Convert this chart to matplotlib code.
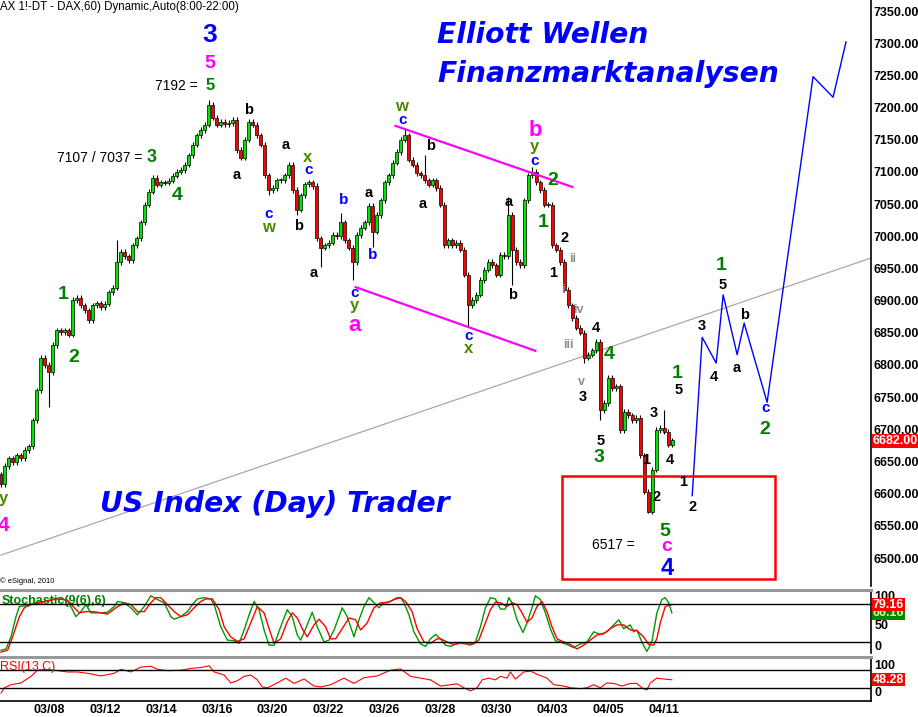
import matplotlib.pyplot as plt
from matplotlib.patches import Rectangle

# time axis in hourly bars: 14 bars per session (8:00-22:00), bar 0 = 03/05 8:00
bars_per_day = 14
day_index = [3, 5, 7, 9, 11, 13, 15, 17, 19, 21, 23, 25]
date_labels = ['03/08', '03/12', '03/14', '03/16', '03/20', '03/22',
               '03/26', '03/28', '03/30', '04/03', '04/05', '04/11']

# 2-hour candles from 03/06 12:00
first_bar = 18
bar_step = 2
first_open = 6630
closes = [6615, 6643, 6655, 6649, 6660, 6655, 6668, 6674, 6714, 6761,
          6811, 6800, 6789, 6831, 6854, 6851, 6854, 6847, 6901, 6904,
          6893, 6885, 6870, 6893, 6896, 6890, 6895, 6913, 6920, 6960,
          6976, 6969, 6963, 6986, 6997, 7022, 7049, 7069, 7091, 7080,
          7084, 7083, 7086, 7094, 7100, 7103, 7111, 7126, 7142, 7157,
          7165, 7173, 7204, 7184, 7173, 7178, 7174, 7176, 7181, 7134,
          7122, 7150, 7178, 7173, 7157, 7142, 7095, 7072, 7075, 7087,
          7087, 7095, 7111, 7072, 7041, 7064, 7081, 7084, 7078, 6997,
          6982, 6986, 6990, 7002, 7000, 7022, 6994, 6982, 6960, 7002,
          7013, 7022, 7047, 7007, 7033, 7056, 7084, 7095, 7114, 7131,
          7150, 7157, 7119, 7111, 7098, 7095, 7087, 7080, 7087, 7075,
          7049, 6986, 6994, 6986, 6990, 6979, 6940, 6893, 6901, 6909,
          6932, 6948, 6960, 6955, 6940, 6971, 6969, 7033, 6979, 6960,
          6955, 7056, 7095, 7100, 7084, 7072, 7049, 7049, 6986, 6979,
          6960, 6917, 6893, 6873, 6858, 6850, 6811, 6816, 6823, 6836,
          6730, 6741, 6780, 6764, 6767, 6699, 6727, 6722, 6714, 6718,
          6660, 6603, 6572, 6637, 6699, 6702, 6696, 6676, 6683]
wick_hi = {29: 6994, 52: 7212, 85: 7036, 101: 7168, 106: 7126,
           127: 7061, 133: 7108, 166: 6730}
wick_lo = {12: 6735, 67: 7064, 74: 7033, 80: 6952, 88: 6932, 93: 6983,
           117: 6859, 128: 6924, 146: 6803, 150: 6714, 162: 6570}
wick = 4
last_price = 6682.00
price_ticks = list(range(6500, 7351, 50))

# stochastic %K (green) and %D (red)
stoch_k_h = [18, 20.5, 23, 25.5, 27.2, 29.7, 31.3, 34.7, 39.7, 44.7,
             48, 51.3, 53, 55.5, 58, 60.5, 63, 68, 71.3, 74.7,
             76.3, 79.7, 83, 86.3, 89.7, 93, 96.3, 99.7, 103, 104.7,
             108, 111.3, 113.8, 116.3, 119.7, 123, 124.7, 128, 131.3, 134.7,
             137.2, 139.7, 142.2, 144.7, 147.2, 149.7, 152.2, 154.7, 158, 161.3,
             163.8, 166.3, 168, 170.5, 173.8, 176.3, 179.7, 182.2, 184.7, 187.2,
             188.8, 191.3, 194.7, 197.2, 199.7, 202.2, 204.7, 207.2, 209.7, 213,
             216.3, 218, 219.7, 222.2, 224.7, 228, 230.5, 233, 235.5,
             238, 240.5, 243, 246.3, 249.7, 253, 255.5, 258, 260.5, 263,
             265.5, 268, 270.5, 272.2, 273.8, 276.3, 279.3, 281.3, 283.8, 285.5,
             288, 290.5, 293, 295.5, 298, 301.3, 304.7, 308, 311.3, 314.7,
             318, 321.3, 324.7, 327.2, 329.7, 333, 334.7, 336.3, 338.8, 341.3,
             343.8, 346.3, 348.8, 350.5, 352.2, 353.8]
stoch_k = [7, 9, 28, 60, 76, 77, 76, 82, 84, 88,
           90, 84, 76, 60, 68, 79, 66, 66, 67, 76,
           84, 82, 74, 63, 76, 93, 87, 82, 60, 56,
           60, 68, 79, 88, 90, 88, 79, 44, 23, 22,
           18, 39, 63, 84, 71, 39, 15, 15, 44, 71,
           60, 31, 23, 41, 67, 44, 20, 23, 39, 60,
           74, 60, 28, 55, 76, 90, 82, 74, 82, 84,
           90, 90, 82, 63, 36, 17, 13, 25, 32,
           25, 15, 13, 18, 18, 15, 20, 44, 74, 90,
           88, 72, 72, 90, 82, 55, 35, 50, 74, 93,
           87, 66, 41, 22, 20, 16, 11, 17, 20, 36,
           32, 36, 47, 55, 41, 47, 36, 39, 20, 5,
           20, 66, 87, 90, 82, 66.16]
stoch_d_h = [18, 21.3, 23.8, 27.2, 29.7, 32.2, 34.7, 39.7, 46.3, 51.3,
             54.7, 57.2, 60.5, 63.8, 68, 71.3, 75.5, 79.7, 83, 86.3,
             89.7, 93, 95.5, 98, 101.3, 104.7, 108, 111.3, 114.7, 118,
             120.5, 123.8, 127.2, 129.7, 133, 136.3, 139.7, 143, 146.3, 149.7,
             152.2, 154.7, 158, 161.3, 163.8, 166.3, 168.8, 171.3, 174.7, 177.2,
             180.5, 183, 185.5, 188.8, 192.2, 195.5, 198, 201.3, 204.7, 208,
             211.3, 214.7, 218, 220.5, 223.8, 226.3, 229.7, 233, 236.3,
             238, 241.3, 244.7, 248, 251.3, 254.7, 257.2, 259.7, 263, 265.5,
             268, 271.3, 273.8, 276.3, 278.8, 281.3, 283.8, 286.3, 288.8, 291.3,
             293.8, 296.3, 299.7, 303, 306.3, 309.7, 313, 316.3, 319.7, 323,
             326.3, 329.7, 333, 336.3, 339.7, 342.2, 344.7, 346.3, 348, 350.5, 353.8]
stoch_d = [4, 7, 28, 60, 74, 79, 80, 84, 88, 86,
           74, 66, 68, 68, 66, 64, 74, 82, 79, 68,
           68, 82, 90, 90, 79, 68, 60, 63, 74, 84,
           88, 88, 71, 44, 28, 21, 25, 50, 76, 66,
           41, 18, 25, 52, 66, 58, 41, 28, 47, 56,
           44, 25, 25, 41, 58, 55, 39, 50, 74, 82,
           82, 87, 90, 84, 68, 41, 20, 18, 25,
           25, 20, 16, 18, 17, 17, 23, 44, 71, 83,
           82, 76, 82, 79, 66, 51, 58, 76, 84, 68,
           44, 25, 20, 16, 9, 15, 23, 31, 33, 41,
           47, 47, 39, 38, 28, 16, 15, 25, 50, 76, 79.16]

# RSI(13)
rsi_h = [18, 19.7, 23, 28, 33, 36.3, 39.7, 44.7, 51.3, 56.3,
         61.3, 68, 74.7, 78, 83, 88, 93, 96.3, 101.3, 108,
         113, 118, 122.2, 124.7, 129.7, 133, 136.3, 139.7, 143, 146.3,
         148.8, 151.3, 156.3, 160.5, 164.7, 169.7, 174.7, 178, 183, 189.7,
         194.7, 199.7, 206.3, 213, 218, 223, 228, 233, 238, 243,
         246.3, 249.7, 253, 256.3, 258.8, 262.2, 265.5, 268, 271.3, 273,
         275.5, 279.7, 283, 287.2, 291.3, 294.7, 299.7, 303, 308, 311.3,
         314.7, 318, 321.3, 324.7, 328.8, 333, 336.3, 338.8, 341.3, 343,
         346.3, 349.7, 353.8]
rsi = [18, 30, 37, 41, 56, 70, 72, 70, 66, 66,
       63, 57, 63, 72, 66, 77, 79, 72, 69, 70,
       74, 76, 80, 66, 59, 41, 46, 56, 59, 48,
       32, 30, 41, 52, 40, 50, 34, 32, 37, 52,
       40, 53, 57, 70, 73, 56, 52, 48, 34, 37,
       39, 30, 23, 30, 48, 52, 48, 56, 52, 66,
       50, 66, 68, 59, 52, 37, 34, 30, 28, 30,
       37, 30, 41, 40, 34, 40, 40, 30, 25, 41,
       52, 50, 48.28]

# analyst drawings (time in bars, price)
trend_h = [18, 453.5]
trend_p = [6504.6, 6966.2]
chan_top_h = [215.5, 304]
chan_top_p = [7171.5, 7076.6]
chan_bot_h = [195.5, 285.5]
chan_bot_p = [6921, 6822]
proj_h = [364, 369, 376, 379.5, 386.5, 390, 401.5, 424.5, 434.5, 441]
proj_p = [6597, 6843, 6803, 6909, 6816, 6865, 6742, 7248, 7216, 7302]
box_h = [299, 405.5]
box_p = [6467.5, 6627.5]

BLUE = '#0000ff'
MAG = '#ff00ff'
GRN = '#008000'
OLV = '#4b8a00'
BLK = 'black'
GRY = '#8c8c8c'

# wave labels: (bar, price, text, colour, size)
waves = [
    (122.5, 7313, '3', BLUE, 19), (122.5, 7268, '5', MAG, 14),
    (122.5, 7235, '5', GRN, 12), (142, 7196, 'b', BLK, 10.5),
    (160.5, 7142, 'a', BLK, 10.5), (93.5, 7123, '3', GRN, 13),
    (106, 7063, '4', GRN, 14), (136, 7095, 'a', BLK, 10.5),
    (152, 7035, 'c', BLUE, 11), (152, 7013, 'w', OLV, 12),
    (167, 7016, 'b', BLK, 10.5), (49, 6909, '1', GRN, 14),
    (54.5, 6812, '2', GRN, 14), (19, 6593, 'y', OLV, 12),
    (19, 6551, '4', MAG, 15), (171.5, 7123, 'x', OLV, 12),
    (172, 7103, 'c', BLUE, 11), (174.5, 6943, 'a', BLK, 10.5),
    (189.5, 7056, 'b', BLUE, 11), (202, 7067, 'a', BLK, 10.5),
    (204, 6971, 'b', BLUE, 11), (195, 6912, 'c', BLUE, 11),
    (195, 6892, 'y', OLV, 12), (195, 6862, 'a', MAG, 16),
    (218.5, 7201, 'w', OLV, 12), (219, 7181, 'c', BLUE, 11),
    (233, 7140, 'b', BLK, 10.5), (229, 7050, 'a', BLK, 10.5),
    (252, 6845, 'c', BLUE, 11), (252, 6825, 'x', OLV, 12),
    (285.5, 7164, 'b', MAG, 16), (285, 7139, 'y', OLV, 12),
    (285, 7117, 'c', BLUE, 11), (294, 7087, '2', GRN, 14),
    (289.5, 7022, '1', GRN, 14), (272, 7053, 'a', BLK, 10.5),
    (274, 6909, 'b', BLK, 10.5), (300, 6997, '2', BLK, 10.5),
    (304, 6965, 'ii', GRY, 9), (294.5, 6943, '1', BLK, 10.5),
    (299.5, 6917, 'i', GRY, 9), (307, 6885, 'iv', GRY, 9),
    (302, 6831, 'iii', GRY, 9), (316, 6857, '4', BLK, 10.5),
    (322.5, 6817, '4', GRN, 14), (308.5, 6773, 'v', GRY, 9),
    (309, 6750, '3', BLK, 10.5), (318, 6682, '5', BLK, 10.5),
    (317.5, 6657, '3', GRN, 14), (356.5, 6786, '1', GRN, 14),
    (357, 6761, '5', BLK, 10.5), (345, 6725, '3', BLK, 10.5),
    (341, 6652, '1', BLK, 10.5), (353, 6652, '4', BLK, 10.5),
    (359.5, 6618, '1', BLK, 10.5), (346, 6595, '2', BLK, 10.5),
    (364, 6579, '2', BLK, 10.5), (350.5, 6541, '5', GRN, 14),
    (351, 6518, 'c', MAG, 14), (351.5, 6484, '4', BLUE, 17),
    (378.5, 6955, '1', GRN, 14), (379, 6924, '5', BLK, 10.5),
    (369, 6861, '3', BLK, 10.5), (375, 6781, '4', BLK, 10.5),
    (386.5, 6795, 'a', BLK, 10.5), (390, 6878, 'b', BLK, 10.5),
    (401, 6733, 'c', BLUE, 11), (400.5, 6699, '2', GRN, 14),
]
# price notes: (bar, price, text)
notes = [(106, 7234, '7192 ='), (67.5, 7122, '7107 / 7037 ='), (324.5, 6520, '6517 =')]

plt.rcParams['font.family'] = ['Liberation Sans', 'DejaVu Sans']

W, H = 918, 717
fig = plt.figure(figsize=(W / 100, H / 100), dpi=100)


def rect(x0, y0, x1, y1):
    return [x0 / W, 1 - y1 / H, (x1 - x0) / W, (y1 - y0) / H]


ax = fig.add_axes(rect(0, 0, 871, 586))
ax_st = fig.add_axes(rect(0, 590, 871, 653), sharex=ax)
ax_rsi = fig.add_axes(rect(0, 657, 871, 701), sharex=ax)

# candles
t = [first_bar + bar_step * i for i in range(len(closes))]
opens = [first_open] + closes[:-1]
highs = [wick_hi.get(i, max(o, c) + wick) for i, (o, c) in enumerate(zip(opens, closes))]
lows = [wick_lo.get(i, min(o, c) - wick) for i, (o, c) in enumerate(zip(opens, closes))]
cols = ['#00e600' if c >= o else '#ff0000' for o, c in zip(opens, closes)]
ax.plot(trend_h, trend_p, color='#b4a0b4', lw=0.9, zorder=1)
ax.vlines(t, lows, highs, color='black', lw=0.8, zorder=2)
ax.bar(t, [max(abs(c - o), 1.5) for o, c in zip(opens, closes)],
       bottom=[min(o, c) for o, c in zip(opens, closes)], width=1.5,
       color=cols, edgecolor='black', linewidth=0.5, zorder=3)

ax.plot(chan_top_h, chan_top_p, color=MAG, lw=1.6, zorder=4)
ax.plot(chan_bot_h, chan_bot_p, color=MAG, lw=1.6, zorder=4)
ax.plot(proj_h, proj_p, color=BLUE, lw=1.0, zorder=4)
ax.add_patch(Rectangle((box_h[0], box_p[0]), box_h[1] - box_h[0], box_p[1] - box_p[0],
                       fill=False, edgecolor='#ff0000', lw=1.8, zorder=4))

for h, p, s, c, fs in waves:
    ax.text(h, p, s, color=c, fontsize=fs, fontweight='bold',
            ha='center', va='center', zorder=5, clip_on=True)
for h, p, s in notes:
    ax.text(h, p, s, color='black', fontsize=10, ha='center', va='center', zorder=5)

ax.set_xlim(17.5, 453.5)
ax.set_ylim(6456.6, 7367.1)
ax.yaxis.tick_right()
ax.set_yticks(price_ticks)
ax.set_yticklabels(['%.2f' % v for v in price_ticks], fontsize=9, fontweight='bold')
ax.tick_params(axis='y', length=0, pad=1.5)
ax.tick_params(axis='x', length=0, labelbottom=False)
for s in ['top', 'left', 'bottom']:
    ax.spines[s].set_visible(False)
ax.spines['right'].set_linewidth(1.2)
ax.text(1.002, last_price, '%.2f' % last_price, transform=ax.get_yaxis_transform(),
        color='white', fontsize=9, fontweight='bold', va='center', ha='left',
        bbox=dict(boxstyle='square,pad=0.08', fc='#ff0000', ec='none'))

# stochastic panel
ax_st.plot(stoch_k_h, stoch_k, color='#009900', lw=1.0)
ax_st.plot(stoch_d_h, stoch_d, color='#ff0000', lw=1.0)
ax_st.axhline(80, color='black', lw=1.0)
ax_st.axhline(20, color='black', lw=1.0)
ax_st.set_ylim(2.6, 102.1)
ax_st.text(0.002, 0.83, 'Stochastic(9(6),6)', transform=ax_st.transAxes, color=GRN,
           fontsize=9, fontweight='bold', va='center', ha='left', zorder=1)
ytr = ax_st.get_yaxis_transform()
for v, s in [(91, '100'), (46, '50'), (12.1, '0')]:
    ax_st.text(1.004, v, s, transform=ytr, fontsize=9, fontweight='bold',
               va='center', zorder=1)
ax_st.text(1.002, stoch_k[-1] - 1, '%.2f' % stoch_k[-1], transform=ytr, color='#e8f0a0',
           fontsize=9, fontweight='bold', va='center', zorder=2,
           bbox=dict(boxstyle='square,pad=0.05', fc='#008800', ec='none'))
ax_st.text(1.002, stoch_d[-1], '%.2f' % stoch_d[-1], transform=ytr, color='white',
           fontsize=9, fontweight='bold', va='center', zorder=3,
           bbox=dict(boxstyle='square,pad=0.05', fc='#ff0000', ec='none'))

# RSI panel
ax_rsi.plot(rsi_h, rsi, color='#ff0000', lw=0.8)
ax_rsi.axhline(70, color='black', lw=1.0)
ax_rsi.axhline(30, color='black', lw=1.0)
ax_rsi.set_ylim(0, 100)
ax_rsi.text(0.0, 0.78, 'RSI(13,C)', transform=ax_rsi.transAxes, color='#ff0000',
            fontsize=9, va='center', ha='left')
ytr = ax_rsi.get_yaxis_transform()
for v, s in [(79.5, '100'), (18, '0')]:
    ax_rsi.text(1.004, v, s, transform=ytr, fontsize=9, fontweight='bold', va='center')
ax_rsi.text(1.002, rsi[-1], '%.2f' % rsi[-1], transform=ytr, color='white',
            fontsize=9, fontweight='bold', va='center',
            bbox=dict(boxstyle='square,pad=0.05', fc='#ff0000', ec='none'))

for a in (ax_st, ax_rsi):
    a.set_yticks([])
    a.spines['left'].set_visible(False)
    a.spines['top'].set_color('#999999')
    a.spines['top'].set_linewidth(2.2)
    a.spines['right'].set_linewidth(1.2)
ax_st.spines['bottom'].set_visible(False)
ax_st.tick_params(axis='x', length=0, labelbottom=False)
ax_rsi.spines['bottom'].set_linewidth(1.2)
ax_rsi.set_xticks([bars_per_day * d for d in day_index])
ax_rsi.set_xticklabels(date_labels, fontsize=9, fontweight='bold')
ax_rsi.tick_params(axis='x', length=0, pad=2.5)

# header and titles
fig.text(0.0, 1 - 10 / H, 'AX 1!-DT - DAX,60) Dynamic,Auto(8:00-22:00)',
         fontsize=8.3, va='baseline', ha='left')
fig.text(0.0, 1 - 583 / H, '\u00a9 eSignal, 2010', fontsize=5.5, va='baseline', ha='left')
title_kw = dict(color=BLUE, fontsize=20.3, fontweight='bold', style='oblique',
                family='DejaVu Sans', va='baseline', ha='left')
fig.text(437 / W, 1 - 43 / H, 'Elliott Wellen', **title_kw)
fig.text(437 / W, 1 - 82 / H, 'Finanzmarktanalysen', **title_kw)
fig.text(100 / W, 1 - 512 / H, 'US Index (Day) Trader', **title_kw)

fig.savefig('out.png', dpi=100)
